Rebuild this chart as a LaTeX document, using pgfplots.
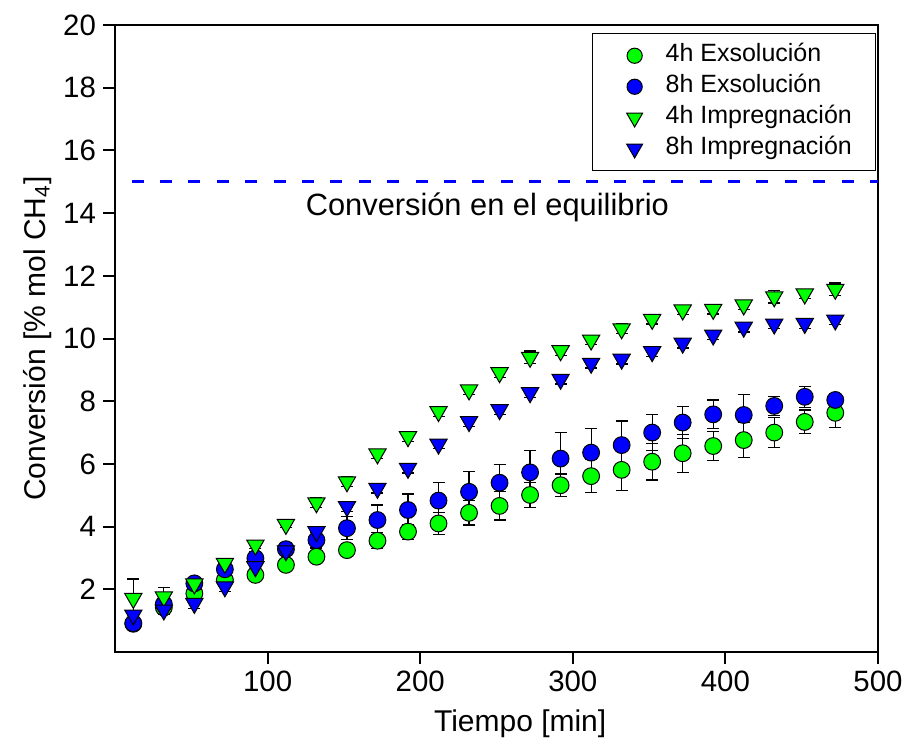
\documentclass[border=0pt]{standalone}
\usepackage{fontspec}
\setmainfont{Liberation Sans}
\usepackage{pgfplots}
\pgfplotsset{compat=1.18}
\definecolor{ogreen}{RGB}{0,255,0}
\definecolor{oblue}{RGB}{0,0,255}
\pgfplotsset{
  legcirc/.style={legend image code/.code={\path[draw=none] (0pt,0pt) -- (32pt,0pt);
    \draw[##1, mark size=3.8pt] plot coordinates {(18pt,0pt)};}},
  legtri/.style={legend image code/.code={\path[draw=none] (0pt,0pt) -- (32pt,0pt);
    \draw[##1, mark size=4.6pt] plot coordinates {(18pt,0pt)};}},
  errs/.style={error bars/.cd, y dir=both, y explicit,
    error bar style={black, line width=0.6pt},
    error mark options={rotate=90, black, line width=0.6pt, mark size=3pt}},
}

\pgfplotstableread{
x y e
12 0.90 0.10
32 1.42 0.10
52 1.87 0.15
72 2.30 0.15
92 2.46 0.15
112 2.78 0.15
132 3.04 0.15
152 3.25 0.20
172 3.55 0.25
192 3.84 0.24
212 4.10 0.35
232 4.44 0.39
252 4.66 0.45
272 5.01 0.40
292 5.32 0.36
312 5.61 0.53
332 5.81 0.65
352 6.07 0.58
372 6.34 0.61
392 6.57 0.47
412 6.76 0.56
432 7.00 0.47
452 7.34 0.38
472 7.63 0.47
}\gexs

\pgfplotstableread{
x y e
12 0.92 0.10
32 1.53 0.10
52 2.19 0.10
72 2.64 0.15
92 2.99 0.20
112 3.28 0.20
132 3.57 0.25
152 3.95 0.37
172 4.21 0.48
192 4.53 0.51
212 4.83 0.57
232 5.11 0.64
252 5.40 0.58
272 5.73 0.70
292 6.17 0.83
312 6.36 0.76
332 6.60 0.77
352 7.00 0.58
372 7.32 0.51
392 7.58 0.46
412 7.56 0.65
432 7.85 0.30
452 8.14 0.34
472 8.04 0.20
}\bexs

\pgfplotstableread{
x y e
12 1.71 0.62
32 1.76 0.30
52 2.17 0.15
72 2.83 0.15
92 3.41 0.10
112 4.07 0.10
132 4.76 0.15
152 5.43 0.15
172 6.32 0.15
192 6.87 0.15
212 7.67 0.15
232 8.36 0.15
252 8.91 0.15
272 9.40 0.20
292 9.61 0.15
312 9.95 0.15
332 10.31 0.15
352 10.61 0.15
372 10.91 0.15
392 10.93 0.15
412 11.07 0.15
432 11.33 0.20
452 11.42 0.15
472 11.57 0.20
}\gimp

\pgfplotstableread{
x y e
12 1.18 0.15
32 1.34 0.15
52 1.55 0.15
72 2.08 0.15
92 2.72 0.15
112 3.23 0.15
132 3.84 0.15
152 4.64 0.15
172 5.22 0.15
192 5.86 0.15
212 6.63 0.15
232 7.35 0.15
252 7.73 0.15
272 8.27 0.15
292 8.70 0.15
312 9.21 0.15
332 9.34 0.15
352 9.58 0.15
372 9.85 0.15
392 10.11 0.15
412 10.36 0.15
432 10.46 0.15
452 10.48 0.15
472 10.59 0.15
}\bimp

\begin{document}
\begin{tikzpicture}
\begin{axis}[
  scale only axis, width=381.5pt, height=313.5pt,
  xmin=0, xmax=500, ymin=0, ymax=20,
  xtick={100,200,300,400,500}, ytick={2,4,...,20},
  tick align=outside, xtick pos=left, ytick pos=left,
  major tick length=6pt,
  axis line style={line width=1pt},
  every tick/.style={black, line width=1pt},
  /pgf/number format/assume math mode=true,
  tick label style={font=\fontsize{14.7}{17.6}\selectfont},
  label style={font=\fontsize{15}{18}\selectfont},
  xlabel={Tiempo [min]},
  ylabel={Conversión [\% mol CH\textsubscript{4}]},
  xlabel style={at={(axis description cs:0.531,-0.126)}, anchor=base},
  ylabel style={at={(axis description cs:-0.0917,0.5)}, anchor=base},
  legend style={at={(axis description cs:0.998,0.987)}, anchor=north east,
    draw=black, line width=0.6pt, inner xsep=3pt, inner ysep=3.5pt,
    font=\fontsize{12.5}{15}\selectfont,
    nodes={inner sep=1.5pt, text height=9pt, text depth=3pt},
    row sep=0.5pt},
  legend cell align=left,
]
\addplot[only marks, mark=*, mark size=4.2pt,
  mark options={fill=ogreen, draw=black, line width=0.5pt},
  legcirc, errs]
  table[x=x, y=y, y error=e] {\gexs};
\addlegendentry{4h Exsolución}
\addplot[only marks, mark=*, mark size=4.2pt,
  mark options={fill=oblue, draw=black, line width=0.5pt},
  legcirc, errs]
  table[x=x, y=y, y error=e] {\bexs};
\addlegendentry{8h Exsolución}
\addplot[only marks, mark=triangle*, mark size=5pt,
  mark options={rotate=180, fill=ogreen, draw=black, line width=0.5pt},
  legtri, errs]
  table[x=x, y=y, y error=e] {\gimp};
\addlegendentry{4h Impregnación\hspace*{7.5pt}}
\addplot[only marks, mark=triangle*, mark size=5pt,
  mark options={rotate=180, fill=oblue, draw=black, line width=0.5pt},
  legtri, errs]
  table[x=x, y=y, y error=e] {\bimp};
\addlegendentry{8h Impregnación\hspace*{7.5pt}}
\addplot[oblue, line width=1.5pt, dash pattern=on 6pt off 8.2pt, forget plot]
  coordinates {(10.9,15) (500,15)};
\node[anchor=base, font=\fontsize{15.4}{18}\selectfont] at (axis cs:244,13.91) {Conversión en el equilibrio};
\coordinate (bl) at (rel axis cs:0,0);
\coordinate (tr) at (rel axis cs:1,1);
\end{axis}
\pgfresetboundingbox
\path[use as bounding box] ([shift={(-57.5pt,-43pt)}]bl) rectangle ([shift={(15.5pt,12.5pt)}]tr);
\end{tikzpicture}
\end{document}
